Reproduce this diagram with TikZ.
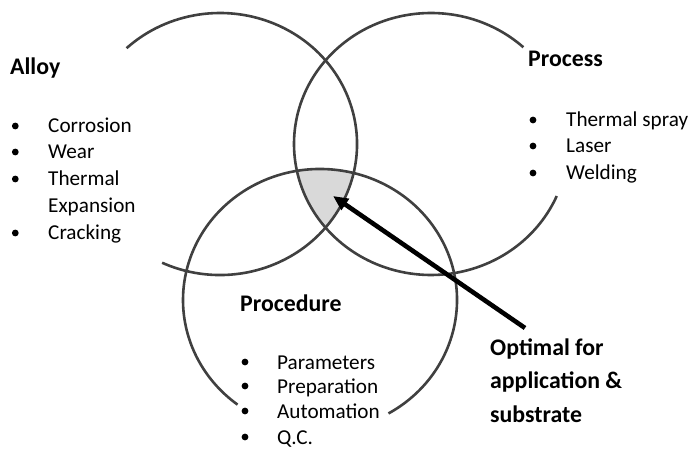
\documentclass[tikz,border=0pt]{standalone}
\usepackage{fontspec}
\setmainfont{Carlito}
\usetikzlibrary{arrows.meta}
\definecolor{ring}{HTML}{404040}
\definecolor{lens}{HTML}{D9D9D9}
\tikzset{
  ringline/.style={draw=ring, line width=2.6pt},
  title/.style={anchor=base west, inner sep=0pt, font=\fontsize{23.8}{28}\selectfont\bfseries},
  item/.style={anchor=base west, inner sep=0pt, font=\fontsize{21.2}{25}\selectfont},
  smallitem/.style={anchor=base west, inner sep=0pt, font=\fontsize{21.2}{25}\selectfont},
  bigtitle/.style={anchor=base west, inner sep=0pt, font=\fontsize{23.8}{28}\selectfont\bfseries},
  bul/.style={circle, fill=black, inner sep=0pt, minimum size=6.8pt},
  pointer/.style={line width=4.6pt, draw=black, -{Triangle[length=15pt,width=13pt]}}
}
\begin{document}
\begin{tikzpicture}[x=1pt,y=1pt]
\useasboundingbox (0,0) rectangle (690,450);
% centres
\coordinate (c1) at (220,306);
\coordinate (c2) at (431,306);
\coordinate (c3) at (320,150);
% shaded common region
\begin{scope}
  \clip (c1) ellipse [x radius=137, y radius=131];
  \clip (c2) ellipse [x radius=137, y radius=131];
  \fill[lens] (c3) ellipse [x radius=137, y radius=131];
\end{scope}
% open circles
\draw[ringline] (c1) ++(-115:137 and 131) arc[start angle=-115, end angle=133, x radius=137, y radius=131];
\draw[ringline] (c2) ++(47.6:137 and 131) arc[start angle=47.6, end angle=336.6, x radius=137, y radius=131];
\draw[ringline] (c3) ++(-60:137 and 131) arc[start angle=-60, end angle=233, x radius=137, y radius=131];

% Alloy
\node[title] (alloy) at (10,375) {Alloy};
\node[item] (a1) at (48,317) {Corrosion};
\node[item] (a2) at (48,291) {Wear};
\node[item] (a3) at (48,264) {Thermal};
\node[item] (a3b) at (48,237) {Expansion};
\node[item] (a4) at (48,210) {Cracking};
\node[bul] (ab1) at (15.3,324) {};
\node[bul] (ab2) at (15.3,298) {};
\node[bul] (ab3) at (15.3,271) {};
\node[bul] (ab4) at (15.3,217) {};

% Process
\node[title] (process) at (528,383) {Process};
\node[item] (p1) at (566,323) {Thermal spray};
\node[item] (p2) at (566,297) {Laser};
\node[item] (p3) at (566,270) {Welding};
\node[bul] (pb1) at (533,330) {};
\node[bul] (pb2) at (533,304) {};
\node[bul] (pb3) at (533,277) {};

% Procedure
\node[title] (procedure) at (240,139) {Procedure};
\node[smallitem] (r1) at (277,81) {Parameters};
\node[smallitem] (r2) at (277,57) {Preparation};
\node[smallitem] (r3) at (277,32) {Automation};
\node[smallitem] (r4) at (277,6) {Q.C.};
\node[bul] (rb1) at (245,88) {};
\node[bul] (rb2) at (245,64) {};
\node[bul] (rb3) at (245,39) {};
\node[bul] (rb4) at (245,13) {};

% Optimal
\node[bigtitle] (o1) at (490,95) {Optimal for};
\node[bigtitle] (o2) at (490,62) {application \&};
\node[bigtitle] (o3) at (490,28) {substrate};

\coordinate (tail) at (525,122);
\coordinate (tip) at (333,254);
\draw[pointer] (tail) -- (tip);
\end{tikzpicture}
\end{document}
